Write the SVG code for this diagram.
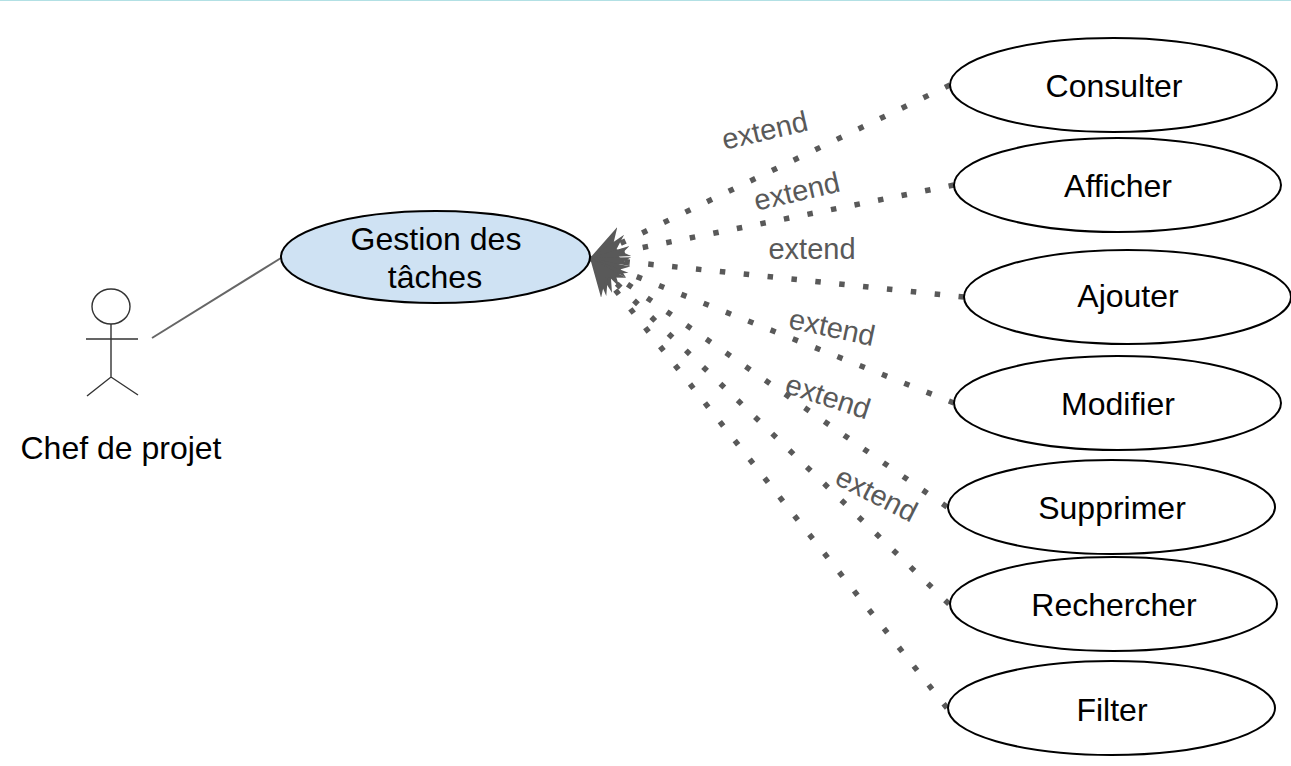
<svg xmlns="http://www.w3.org/2000/svg" width="1291" height="766" viewBox="0 0 1291 766">
<style>
text{font-family:"Liberation Sans",Arial,sans-serif}
.n{fill:#fff;stroke:#000;stroke-width:2}
.t{font-size:32px;fill:#000;text-anchor:middle}
.l{font-size:29px;fill:#595959;text-anchor:middle}
.d{fill:none;stroke:#595959;stroke-width:5.5;stroke-dasharray:5.5 18.5;marker-end:url(#h)}
.a{fill:none;stroke:#333;stroke-width:1.4}
</style>
<defs><marker id="h" markerUnits="userSpaceOnUse" markerWidth="42" markerHeight="36" refX="38" refY="18" orient="auto"><path d="M0,2L38,18L0,34L13,18Z" fill="#595959"/></marker></defs>
<rect width="1291" height="1" fill="#b2e0e4"/>
<g id="connectors">
<line x1="152" y1="338" x2="281" y2="258" stroke="#666" stroke-width="2"/>
<path class="d" d="M950,85L590,258"/>
<path class="d" d="M954,185L590,258"/>
<path class="d" d="M964,297L590,258"/>
<path class="d" d="M954,403L590,258"/>
<path class="d" d="M947,507L590,258"/>
<path class="d" d="M949,604L590,258"/>
<path class="d" d="M947,708L590,258"/>
<text class="l" transform="translate(767,140) rotate(-13)">extend</text>
<text class="l" transform="translate(799,201) rotate(-13)">extend</text>
<text class="l" transform="translate(812,259)">extend</text>
<text class="l" transform="translate(830,337) rotate(12)">extend</text>
<text class="l" transform="translate(825,406) rotate(18)">extend</text>
<text class="l" transform="translate(872,503) rotate(27)">extend</text>
</g>
<g id="actor">
<ellipse class="a" cx="111" cy="306.5" rx="19" ry="17.5"/>
<path class="a" d="M111,324V377M86,339H138M87,396L111,377L138,395"/>
<text class="t" x="121" y="459">Chef de projet</text>
</g>
<g id="gestion"><ellipse class="n" cx="435.5" cy="257" rx="154.5" ry="46" style="fill:#cfe2f3"/>
<text class="t" x="436" y="250">Gestion des</text><text class="t" x="435" y="288">tâches</text></g>
<g id="consulter"><ellipse class="n" cx="1113.5" cy="85" rx="163.5" ry="47"/><text class="t" x="1114" y="97">Consulter</text></g>
<g id="afficher"><ellipse class="n" cx="1117.5" cy="185" rx="163.5" ry="47"/><text class="t" x="1118" y="197">Afficher</text></g>
<g id="ajouter"><ellipse class="n" cx="1127.5" cy="297" rx="163.5" ry="47"/><text class="t" x="1128" y="307">Ajouter</text></g>
<g id="modifier"><ellipse class="n" cx="1117.5" cy="403" rx="163.5" ry="47"/><text class="t" x="1118" y="415">Modifier</text></g>
<g id="supprimer"><ellipse class="n" cx="1111.5" cy="507" rx="163.5" ry="47"/><text class="t" x="1112" y="519">Supprimer</text></g>
<g id="rechercher"><ellipse class="n" cx="1113.5" cy="604" rx="163.5" ry="47"/><text class="t" x="1114" y="616">Rechercher</text></g>
<g id="filter"><ellipse class="n" cx="1111.5" cy="708" rx="163.5" ry="47"/><text class="t" x="1112" y="721">Filter</text></g>
</svg>
